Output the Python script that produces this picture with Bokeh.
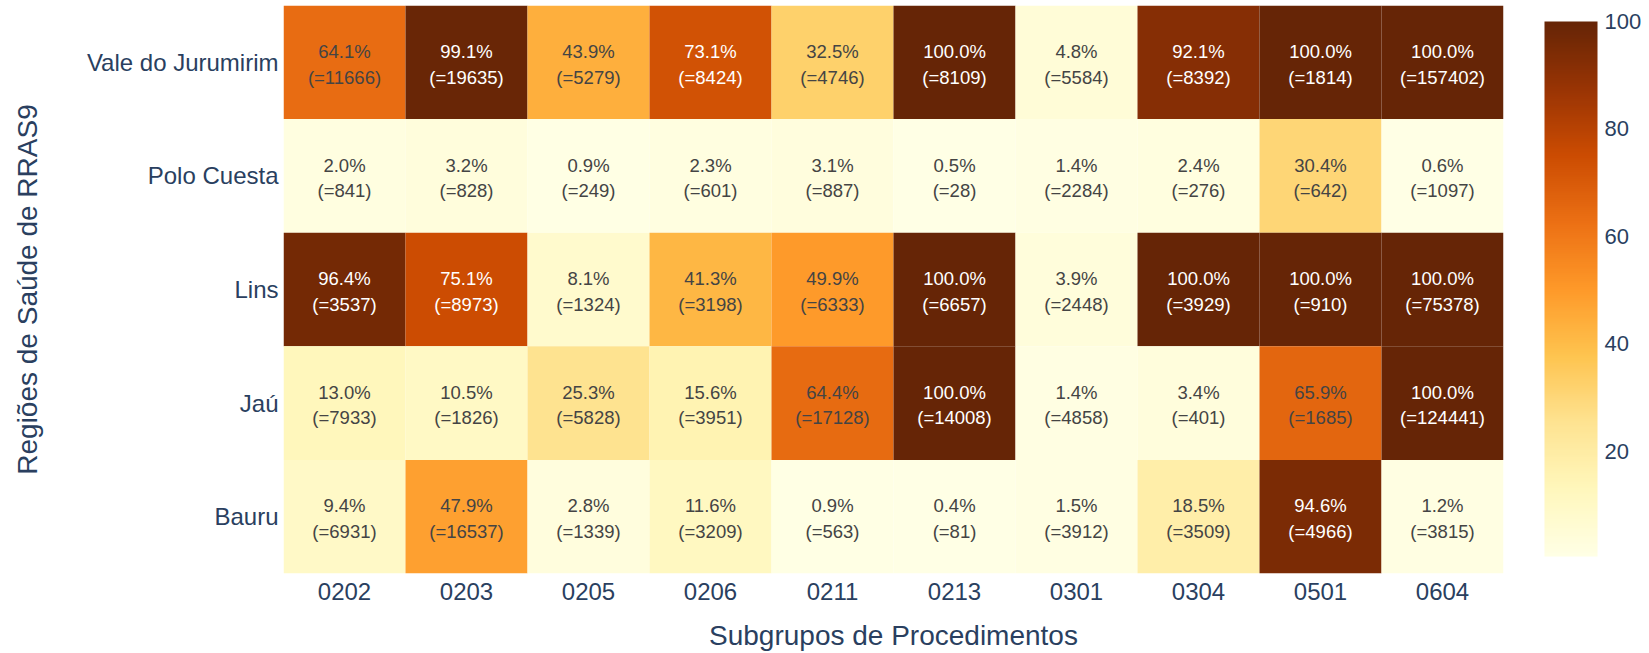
import numpy as np
from bokeh.plotting import figure
from bokeh.models import ColumnDataSource, LinearColorMapper, ColorBar, FixedTicker, FactorRange
from bokeh.core.properties import value
from bokeh.embed import file_html
from bokeh.resources import INLINE

# ---- data ----
subgroups = ["0202", "0203", "0205", "0206", "0211", "0213", "0301", "0304", "0501", "0604"]
regions = ["Vale do Jurumirim", "Polo Cuesta", "Lins", "Jaú", "Bauru"]

pct_vale = [64.1, 99.1, 43.9, 73.1, 32.5, 100.0, 4.8, 92.1, 100.0, 100.0]
n_vale = [11666, 19635, 5279, 8424, 4746, 8109, 5584, 8392, 1814, 157402]
pct_polo = [2.0, 3.2, 0.9, 2.3, 3.1, 0.5, 1.4, 2.4, 30.4, 0.6]
n_polo = [841, 828, 249, 601, 887, 28, 2284, 276, 642, 1097]
pct_lins = [96.4, 75.1, 8.1, 41.3, 49.9, 100.0, 3.9, 100.0, 100.0, 100.0]
n_lins = [3537, 8973, 1324, 3198, 6333, 6657, 2448, 3929, 910, 75378]
pct_jau = [13.0, 10.5, 25.3, 15.6, 64.4, 100.0, 1.4, 3.4, 65.9, 100.0]
n_jau = [7933, 1826, 5828, 3951, 17128, 14008, 4858, 401, 1685, 124441]
pct_bauru = [9.4, 47.9, 2.8, 11.6, 0.9, 0.4, 1.5, 18.5, 94.6, 1.2]
n_bauru = [6931, 16537, 1339, 3209, 563, 81, 3912, 3509, 4966, 3815]

colorbar_ticks = [20, 40, 60, 80, 100]

pct_rows = [pct_vale, pct_polo, pct_lins, pct_jau, pct_bauru]
n_rows = [n_vale, n_polo, n_lins, n_jau, n_bauru]

# ---- colour scale (YlOrBr) ----
stops = [(255, 255, 229), (255, 247, 188), (254, 227, 145), (254, 196, 79), (254, 153, 41),
         (236, 112, 20), (204, 76, 2), (153, 52, 4), (102, 37, 6)]
stops = np.array(stops, dtype=float)
pos = np.linspace(0, 1, len(stops))
t = np.linspace(0, 1, 256)
pal_rgb = np.stack([np.interp(t, pos, stops[:, k]) for k in range(3)], axis=1)
palette = ["#%02x%02x%02x" % tuple(int(round(c)) for c in rgb) for rgb in pal_rgb]

all_pct = [v for row in pct_rows for v in row]
zmin, zmax = min(all_pct), 100.0
mapper = LinearColorMapper(palette=palette, low=zmin, high=zmax)

def text_color(v):
    f = (v - zmin) / (zmax - zmin)
    rgb = [np.interp(f, pos, stops[:, k]) for k in range(3)]
    bright = (rgb[0] * 299 + rgb[1] * 587 + rgb[2] * 114) / 1000
    return "#ffffff" if bright < 128 else "#444444"

xs, ys, vals, labels, tcolors = [], [], [], [], []
for r, prow, nrow in zip(regions, pct_rows, n_rows):
    for s, v, n in zip(subgroups, prow, nrow):
        xs.append(s)
        ys.append(r)
        vals.append(v)
        labels.append(f"{v:.1f}%\n(={n})")
        tcolors.append(text_color(v))

src = ColumnDataSource(dict(x=xs, y=ys, v=vals, label=labels, tc=tcolors))

FONT = "Liberation Sans"
AX = "#2a3f5f"

p = figure(width=1649, height=653, output_backend="svg", toolbar_location=None,
           x_range=FactorRange(factors=subgroups),
           y_range=FactorRange(factors=list(reversed(regions))),
           min_border_left=283, min_border_top=5, min_border_bottom=80, min_border_right=146)
p.outline_line_color = None
p.xgrid.grid_line_color = None
p.ygrid.grid_line_color = None
p.background_fill_color = "white"
p.border_fill_color = "white"
p.x_range.range_padding = 0
p.y_range.range_padding = 0

p.rect(x="x", y="y", width=1, height=1, source=src,
       fill_color={"field": "v", "transform": mapper}, line_color=None)
p.text(x="x", y="y", text="label", source=src, text_align="center", text_baseline="middle",
       text_font=value(FONT), text_font_size="18.5px", text_color="tc", text_line_height=1.22,
       y_offset=2)

for ax in (p.xaxis[0], p.yaxis[0]):
    ax.axis_line_color = None
    ax.major_tick_line_color = None
    ax.minor_tick_line_color = None
    ax.major_tick_in = 0
    ax.major_tick_out = 0
    ax.minor_tick_in = 0
    ax.minor_tick_out = 0
    ax.major_label_text_font = FONT
    ax.major_label_text_font_size = "24px"
    ax.major_label_text_color = AX
    ax.axis_label_text_font = FONT
    ax.axis_label_text_font_size = "28px"
    ax.axis_label_text_color = AX
    ax.axis_label_text_font_style = "normal"

p.xaxis.axis_label = "Subgrupos de Procedimentos"
p.yaxis.axis_label = "Regiões de Saúde de RRAS9"
p.xaxis.major_label_standoff = 9
p.xaxis.axis_label_standoff = 17
p.yaxis.major_label_standoff = 5
p.yaxis.axis_label_standoff = 41

cb = ColorBar(color_mapper=mapper, ticker=FixedTicker(ticks=colorbar_ticks),
              width=53, height=535, padding=0, margin=0, location=(41, 17),
              major_tick_line_color=None, bar_line_color=None,
              major_label_text_font=FONT, major_label_text_font_size="22px",
              major_label_text_color=AX, label_standoff=7,
              background_fill_color=None, border_line_color=None)
p.add_layout(cb, "right")

open("out.html", "w").write(file_html(p, INLINE))
